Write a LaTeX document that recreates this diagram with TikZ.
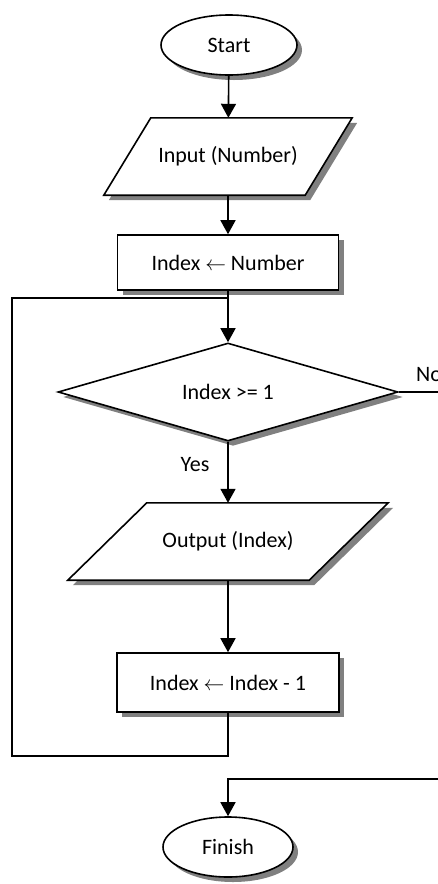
\documentclass[tikz,border=0pt]{standalone}
\usepackage{fontspec}
\setmainfont{Carlito}
\usetikzlibrary{shapes.geometric,shadows,arrows.meta}
\pgfdeclarelayer{background}
\pgfsetlayers{background,main}

\begin{document}
\begin{tikzpicture}[x=1pt,y=-1pt,
  txt/.style={font=\fontsize{22}{26}\selectfont},
  shade/.style={drop shadow={shadow xshift=5pt, shadow yshift=-5pt, fill=black!50, opacity=1}},
  base/.style={txt, draw=black, line width=1.6pt, fill=white, inner sep=0pt, shade},
  term/.style={base, ellipse},
  procbox/.style={base, rectangle},
  decide/.style={base, diamond, aspect=4},
  iobox/.style={txt, rectangle, inner sep=0pt},
  para/.style={draw=black, line width=1.6pt, fill=white, shade},
  flow/.style={line width=1.6pt, -{Triangle[width=15pt,length=14pt]}},
  wire/.style={line width=1.6pt},
  lbl/.style={txt, inner sep=0pt}]

\clip (0,0) rectangle (438,884);

% terminals
\node[term, minimum width=136pt, minimum height=60pt] (start) at (229,45) {Start};
\node[term, minimum width=130pt, minimum height=60pt] (fin) at (228,847) {Finish};

% input / output holders, outlines drawn underneath
\node[iobox, minimum width=248pt, minimum height=77pt] (in) at (228,156.5) {Input (Number)};
\node[iobox, minimum width=320pt, minimum height=77pt] (out) at (228,541.5) {Output (Index)};
\begin{pgfonlayer}{background}
  \draw[para] ([xshift=47pt]in.north west) -- (in.north east)
    -- ([xshift=-47pt]in.south east) -- (in.south west) -- cycle;
  \draw[para] ([xshift=79pt]out.north west) -- (out.north east)
    -- ([xshift=-79pt]out.south east) -- (out.south west) -- cycle;
\end{pgfonlayer}

% processes
\node[procbox, minimum width=221pt, minimum height=55pt] (a1) at (228,262.5) {Index $\leftarrow$ Number};
\node[procbox, minimum width=222pt, minimum height=59pt] (a2) at (228,682.5) {Index $\leftarrow$ Index - 1};

% decision
\node[decide, minimum width=340pt, minimum height=98pt] (dec) at (228,392) {Index >= 1};

% labels
\node[lbl, anchor=west] (no) at (416,375) {No};
\node[lbl] (yes) at (195,465) {Yes};

% loop and exit points
\coordinate (join) at (228,298);
\coordinate (loopBL) at (12,756);
\coordinate (offR) at (470,779);

% connectors
\draw[flow] (start) -- (in);
\draw[flow] (in) -- (a1);
\draw[flow] (a1) -- (dec);
\draw[flow] (dec) -- (out);
\draw[flow] (out) -- (a2);
\draw[wire] (a2.south) |- (loopBL) |- (join);
\draw[flow] (dec.east) -| (offR) -| (fin.north);

\end{tikzpicture}
\end{document}
